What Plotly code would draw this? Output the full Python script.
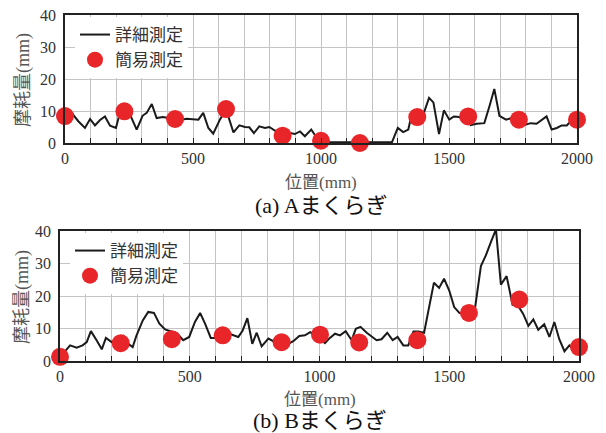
import plotly.graph_objects as go

# ---- (a) A sleeper: detailed measurement line ----
xA = [0, 26, 52, 78, 98, 117, 137, 156, 176, 199, 217, 236, 254, 280, 303, 319, 339, 358, 382, 404,
      430, 456, 475, 501, 521, 540, 560, 579, 605, 629, 658, 681, 703, 720, 738, 759, 781, 798, 820, 850,
      879, 898, 918, 937, 962, 983, 1002, 1022, 1060, 1100, 1150, 1200, 1250, 1277, 1300, 1321, 1341, 1358,
      1376, 1402, 1422, 1439, 1461, 1480, 1501, 1519, 1540, 1556, 1575, 1585, 1608, 1638, 1658, 1677, 1697,
      1723, 1745, 1773, 1799, 1819, 1842, 1881, 1901, 1921, 1940, 1960, 1979, 2000]
yA = [9.0, 9.4, 6.8, 4.7, 7.5, 5.5, 7.2, 8.3, 5.4, 4.7, 10.2, 9.6, 8.9, 4.2, 8.5, 9.4, 12.2, 7.8, 8.1, 7.8,
      7.5, 7.3, 7.6, 7.5, 7.3, 9.4, 4.7, 2.9, 7.3, 10.6, 3.3, 5.5, 5.0, 4.9, 3.1, 5.2, 4.7, 5.0, 3.9, 2.3,
      3.1, 2.8, 3.6, 2.1, 4.2, 1.6, 0.5, 0.2, 0.2, 0.2, 0.2, 0.2, 0.2, 0.2, 4.7, 3.4, 4.2, 10.2,
      8.3, 9.4, 14.1, 12.7, 2.8, 10.2, 7.3, 8.3, 8.1, 7.3, 8.3, 5.6, 6.0, 6.2, 11.5, 16.9, 8.5,
      7.3, 7.8, 7.3, 5.7, 6.2, 6.0, 8.3, 4.2, 4.7, 5.5, 5.5, 7.1, 7.3]
mxA = [0, 232, 430, 629, 850, 1000, 1152, 1376, 1575, 1773, 2000]
myA = [8.4, 9.9, 7.5, 10.6, 2.3, 0.7, 0.0, 8.1, 8.3, 7.3, 7.3]

# ---- (b) B sleeper ----
xB = [0, 19, 39, 64, 87, 103, 119, 141, 161, 177, 199, 222, 244, 263, 280, 295, 319, 340, 362, 383,
      405, 431, 452, 475, 498, 520, 540, 559, 581, 597, 620, 653, 674, 687, 704, 722, 741, 758, 777, 803,
      829, 854, 873, 899, 922, 944, 964, 985, 1021, 1040, 1060, 1079, 1101, 1124, 1140, 1158, 1182, 1201,
      1220, 1239, 1261, 1282, 1301, 1323, 1342, 1362, 1381, 1403, 1423, 1441, 1461, 1480, 1500, 1519, 1539,
      1560, 1580, 1599, 1622, 1641, 1663, 1680, 1699, 1721, 1744, 1765, 1785, 1805, 1824, 1843, 1866, 1886,
      1905, 1924, 1944, 1963, 1984, 2000]
yB = [1.2, 2.8, 4.8, 4.1, 4.8, 5.8, 9.2, 6.4, 3.6, 7.1, 5.8, 5.2, 7.7, 5.3, 4.3, 7.9, 12.5, 15.1, 14.8, 11.5,
      9.7, 9.0, 8.4, 6.4, 7.4, 12.0, 14.8, 11.5, 7.1, 7.1, 8.0, 8.4, 7.9, 7.4, 9.4, 13.2, 5.3, 8.7, 4.5, 6.9,
      5.8, 6.0, 5.0, 6.1, 7.7, 7.9, 8.9, 8.0, 5.5, 7.1, 8.4, 7.9, 9.2, 6.4, 9.9, 10.5, 8.7, 7.4,
      6.4, 6.7, 8.7, 6.4, 7.4, 4.8, 4.8, 9.1, 9.1, 8.7, 17.3, 24.1, 22.5, 25.3, 21.7, 16.6, 14.8,
      14.3, 14.6, 16.1, 29.2, 32.5, 37.1, 40.5, 23.5, 26.1, 17.3, 17.0, 14.5, 10.8, 12.8, 9.6, 11.3, 7.4,
      12.0, 6.7, 3.0, 4.8, 3.3, 4.3]
mxB = [0, 234, 431, 627, 854, 1002, 1153, 1377, 1576, 1770, 2000]
myB = [1.3, 5.5, 6.7, 7.9, 5.8, 8.1, 5.7, 6.4, 14.8, 18.9, 4.3]

names = ["詳細測定", "簡易測定"]
xticks = [0, 500, 1000, 1500, 2000]
yticks = [0, 10, 20, 30, 40]
captions = ["(a) Aまくらぎ", "(b) Bまくらぎ"]

W, H = 606, 433
FONT = "Liberation Serif, Noto Sans CJK JP, serif"
RED = "#e8262a"

fig = go.Figure()
fig.add_trace(go.Scatter(x=xA, y=yA, mode="lines", name=names[0], line=dict(color="#1a1a1a", width=2),
                         xaxis="x", yaxis="y", legend="legend"))
fig.add_trace(go.Scatter(x=mxA, y=myA, mode="markers", name=names[1], cliponaxis=False,
                         marker=dict(color=RED, size=18, line=dict(width=0)),
                         xaxis="x", yaxis="y", legend="legend"))
fig.add_trace(go.Scatter(x=xB, y=yB, mode="lines", name=names[0], line=dict(color="#1a1a1a", width=2),
                         xaxis="x2", yaxis="y2", legend="legend2"))
fig.add_trace(go.Scatter(x=mxB, y=myB, mode="markers", name=names[1], cliponaxis=False,
                         marker=dict(color=RED, size=18, line=dict(width=0)),
                         xaxis="x2", yaxis="y2", legend="legend2"))

def px_x(p):
    return p / W

def px_y(p):
    return 1 - p / H

def xaxis(dom, anchor):
    return dict(domain=dom, anchor=anchor, range=[0, 2000], tickvals=xticks, automargin=False,
                showgrid=True, gridcolor="#c4c4c4", gridwidth=1,
                minor=dict(dtick=100, showgrid=True, gridcolor="#c4c4c4", gridwidth=1,
                           ticks="inside", ticklen=5, tickcolor="#222"),
                ticks="inside", ticklen=5, tickcolor="#222",
                showline=True, linecolor="#222", linewidth=1.5, mirror=True,
                zeroline=False, tickfont=dict(family=FONT, size=16, color="#333"))

def yaxis(dom, anchor):
    return dict(domain=dom, anchor=anchor, range=[0, 40], tickvals=yticks, automargin=False,
                showgrid=True, gridcolor="#c4c4c4", gridwidth=1,
                showline=True, linecolor="#222", linewidth=1.5, mirror=True,
                zeroline=False, ticks="", ticklabelstandoff=4,
                tickfont=dict(family=FONT, size=16, color="#333"))

LEGFONT = dict(family=FONT, size=17, color="#333")
fig.update_layout(
    width=W, height=H, margin=dict(l=0, r=0, t=0, b=0, pad=0, autoexpand=False),
    paper_bgcolor="white", plot_bgcolor="white",
    xaxis=xaxis([px_x(65), px_x(577)], "y"),
    yaxis=yaxis([px_y(143), px_y(15)], "x"),
    xaxis2=xaxis([px_x(60), px_x(579)], "y2"),
    yaxis2=yaxis([px_y(361), px_y(231)], "x2"),
    legend=dict(x=px_x(75), y=px_y(17), xanchor="left", yanchor="top", bgcolor="white",
                font=LEGFONT, tracegroupgap=0, itemwidth=30, borderwidth=0),
    legend2=dict(x=px_x(70), y=px_y(233), xanchor="left", yanchor="top", bgcolor="white",
                 font=LEGFONT, tracegroupgap=0, itemwidth=30, borderwidth=0),
    showlegend=True,
)

anns = []
for ycen, xc in [(80, 23), (297, 22)]:
    anns.append(dict(text="摩耗量(mm)", x=px_x(xc), y=px_y(ycen), xref="paper", yref="paper",
                     xanchor="center", yanchor="middle",
                     showarrow=False, textangle=-90, font=dict(family=FONT, size=18, color="#555")))
for xc, yc in [((65 + 577) / 2, 183), ((60 + 579) / 2, 399)]:
    anns.append(dict(text="位置(mm)", x=px_x(xc), y=px_y(yc), xref="paper", yref="paper",
                     xanchor="center", yanchor="middle",
                     showarrow=False, font=dict(family=FONT, size=17, color="#555")))
for cap, xc, yc in [(captions[0], (65 + 577) / 2, 205), (captions[1], (60 + 579) / 2, 420)]:
    anns.append(dict(text=cap, x=px_x(xc), y=px_y(yc), xref="paper", yref="paper",
                     xanchor="center", yanchor="middle",
                     showarrow=False, font=dict(family=FONT, size=22, color="#111")))
fig.update_layout(annotations=anns)

fig.write_html("out.html",
               post_script="document.body.style.margin='0';document.body.style.overflow='hidden';")
